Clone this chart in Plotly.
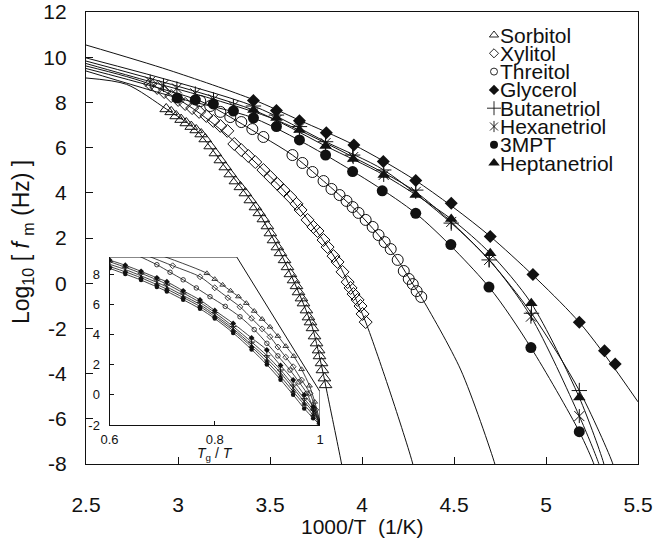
import plotly.graph_objects as go

# ---------------- main panel data (1000/T, log10 f) ----------------
SORB_X = [2.936, 2.963, 2.990, 3.017, 3.045, 3.072, 3.099, 3.126, 3.148, 3.175, 3.203, 3.230, 3.257, 3.284,
          3.312, 3.339, 3.366, 3.393, 3.421, 3.442, 3.464, 3.486, 3.502, 3.519, 3.540, 3.557, 3.579, 3.595,
          3.611, 3.628, 3.644, 3.655, 3.671, 3.682, 3.698, 3.709, 3.720, 3.731, 3.742, 3.753, 3.764, 3.769,
          3.780, 3.785, 3.796, 3.802]
SORB_Y = [7.71, 7.58, 7.40, 7.24, 7.09, 6.93, 6.78, 6.60, 6.38, 6.07, 5.76, 5.45, 5.14, 4.83, 4.52, 4.26,
          3.99, 3.68, 3.37, 3.11, 2.84, 2.53, 2.22, 1.91, 1.60, 1.34, 1.03, 0.72, 0.41, 0.14, -0.12, -0.39,
          -0.66, -0.88, -1.19, -1.50, -1.72, -1.98, -2.34, -2.65, -2.96, -3.22, -3.53, -3.84, -4.20, -4.50]
SORB_FIT_X = [2.5, 2.72, 2.936, 3.099, 3.257, 3.421, 3.557, 3.655, 3.731, 3.785, 3.811, 3.889, 3.895]
SORB_FIT_Y = [9.08, 8.80, 7.71, 6.78, 5.14, 3.37, 1.34, -0.39, -1.98, -3.84, -4.87, -8.0, -8.3]

XYL_X = [2.849, 2.887, 2.925, 2.963, 3.001, 3.039, 3.077, 3.115, 3.154, 3.192, 3.230, 3.268, 3.306, 3.344,
         3.382, 3.420, 3.464, 3.502, 3.540, 3.573, 3.611, 3.644, 3.666, 3.704, 3.736, 3.758, 3.791, 3.813,
         3.845, 3.867, 3.894, 3.922, 3.938, 3.954, 3.976, 3.992, 4.003, 4.020]
XYL_Y = [8.81, 8.64, 8.46, 8.28, 8.11, 7.93, 7.75, 7.58, 7.40, 7.18, 6.96, 6.74, 6.16, 5.89, 5.63, 5.36,
         5.01, 4.70, 4.39, 4.12, 3.81, 3.51, 3.24, 2.80, 2.49, 2.31, 1.91, 1.60, 1.20, 0.94, 0.50, 0.05,
         -0.21, -0.48, -0.74, -1.01, -1.36, -1.72]
XYL_FIT_X = [2.5, 2.849, 3.077, 3.268, 3.382, 3.573, 3.736, 3.867, 3.954, 4.020, 4.156, 4.276, 4.282]
XYL_FIT_Y = [9.61, 8.80, 7.75, 6.55, 5.65, 4.12, 2.49, 0.94, -0.48, -1.72, -4.90, -8.0, -8.3]

THR_X = [3.121, 3.175, 3.230, 3.284, 3.344, 3.404, 3.464, 3.622, 3.676, 3.731, 3.791, 3.834, 3.878, 3.916,
         3.949, 3.981, 4.020, 4.058, 4.090, 4.123, 4.156, 4.194, 4.227, 4.254, 4.276, 4.297, 4.322]
THR_Y = [8.06, 7.84, 7.58, 7.35, 7.13, 6.82, 6.47, 5.67, 5.32, 4.92, 4.52, 4.17, 3.90, 3.64, 3.37, 3.11,
         2.80, 2.49, 2.13, 1.82, 1.51, 1.03, 0.54, 0.19, -0.04, -0.35, -0.61]
THR_FIT_X = [2.5, 3.121, 3.284, 3.464, 3.622, 3.791, 3.949, 4.090, 4.194, 4.276, 4.322, 4.537, 4.722, 4.73]
THR_FIT_Y = [9.5, 8.06, 7.35, 6.47, 5.67, 4.52, 3.37, 2.13, 1.03, -0.04, -0.61, -3.84, -8.0, -8.3]

GLY_X = [3.410, 3.535, 3.660, 3.806, 3.956, 4.116, 4.292, 4.485, 4.697, 4.929, 5.181, 5.318, 5.376]
GLY_Y = [8.08, 7.64, 7.19, 6.66, 6.12, 5.38, 4.54, 3.54, 2.07, 0.39, -1.73, -2.99, -3.58]
GLY_FIT_X = [2.5, 2.95, 3.41, 3.66, 3.956, 4.292, 4.697, 5.181, 5.5]
GLY_FIT_Y = [10.54, 9.43, 8.12, 7.21, 6.12, 4.54, 2.07, -1.73, -5.25]

BUT_X = [3.410, 3.535, 3.660, 3.802, 3.949, 4.118, 4.292, 4.485, 4.691, 4.921, 5.181]
BUT_Y = [7.84, 7.44, 6.93, 6.26, 5.67, 5.01, 4.12, 2.66, 1.03, -1.33, -4.75]
BUT_FIT_X = [2.5, 3.410, 3.802, 4.118, 4.485, 4.691, 4.921, 5.181, 5.365, 5.37]
BUT_FIT_Y = [9.97, 7.84, 6.26, 5.01, 2.66, 1.03, -1.33, -4.75, -8.04, -8.3]

HEX_X = [2.849, 2.921, 2.994, 3.094, 3.193, 3.301, 3.410, 3.535, 3.660, 3.802, 3.952, 4.118, 4.292, 4.485,
         4.691, 4.918, 5.181]
HEX_Y = [8.92, 8.77, 8.62, 8.40, 8.14, 7.84, 7.53, 7.22, 6.87, 6.20, 5.58, 4.79, 4.04, 2.71, 1.03, -1.48,
         -5.88]
HEX_FIT_X = [2.5, 2.849, 3.193, 3.535, 3.952, 4.292, 4.691, 4.918, 5.181, 5.289, 5.295]
HEX_FIT_Y = [9.72, 8.92, 8.14, 7.22, 5.58, 4.04, 1.03, -1.48, -5.88, -8.04, -8.3]

MPT_X = [2.996, 3.094, 3.192, 3.301, 3.410, 3.535, 3.660, 3.802, 3.949, 4.110, 4.292, 4.483, 4.690, 4.918,
         5.181]
MPT_Y = [8.20, 8.11, 7.93, 7.62, 7.31, 6.93, 6.34, 5.67, 4.94, 4.09, 3.09, 1.71, -0.17, -2.85, -6.57]
MPT_FIT_X = [2.5, 2.996, 3.410, 3.802, 4.292, 4.690, 4.918, 5.181, 5.262, 5.27]
MPT_FIT_Y = [9.39, 8.20, 7.31, 5.67, 3.09, -0.17, -2.85, -6.57, -8.04, -8.3]

HEP_X = [3.410, 3.535, 3.660, 3.802, 3.952, 4.118, 4.292, 4.485, 4.697, 4.920, 5.181]
HEP_Y = [7.66, 7.31, 6.78, 6.07, 5.50, 4.79, 3.90, 2.84, 1.32, -0.89, -5.06]
HEP_FIT_X = [2.5, 3.410, 3.802, 4.118, 4.485, 4.697, 4.920, 5.181, 5.316, 5.32]
HEP_FIT_Y = [9.83, 7.66, 6.07, 4.79, 2.84, 1.32, -0.89, -5.06, -8.04, -8.3]

# ---------------- inset data (Tg/T, log10 f) ----------------
I_SORB_X = [0.685, 0.785, 0.80, 0.815, 0.83, 0.845, 0.86, 0.875, 0.89, 0.905, 0.92, 0.935, 0.95, 0.965, 0.98, 0.99, 1.0]
I_SORB_Y = [9.4, 8.05, 7.66, 7.28, 6.89, 6.51, 6.07, 5.55, 5.02, 4.50, 3.89, 3.22, 2.56, 1.69, 0.60, -0.47, -1.78]
I_XYL_X = [0.655, 0.72, 0.772, 0.80, 0.825, 0.848, 0.87, 0.89, 0.905, 0.92, 0.935, 0.949, 0.965, 0.981, 0.992, 1.0]
I_XYL_Y = [9.45, 8.55, 7.82, 7.09, 6.43, 5.83, 5.07, 4.37, 3.85, 3.17, 2.49, 1.86, 0.98, 0.10, -1.0, -1.78]
I_THR_X = [0.64, 0.69, 0.715, 0.74, 0.765, 0.791, 0.82, 0.848, 0.875, 0.899, 0.92, 0.943, 0.96, 0.975, 0.988, 1.0]
I_THR_Y = [9.45, 8.62, 8.12, 7.62, 7.08, 6.50, 5.86, 5.17, 4.32, 3.41, 2.58, 1.64, 0.85, 0.10, -0.95, -1.95]
I_B_X = [0.60, 0.63, 0.66, 0.69, 0.709, 0.74, 0.772, 0.80, 0.835, 0.87, 0.899, 0.925, 0.949, 0.97, 0.987, 1.0]
I_GLY_Y = [8.93, 8.58, 8.18, 7.75, 7.49, 6.89, 6.28, 5.59, 4.73, 3.77, 2.97, 1.94, 0.98, 0.0, -0.79, -1.89]
I_BUT_Y = [8.82, 8.45, 8.05, 7.62, 7.33, 6.75, 6.12, 5.45, 4.52, 3.5, 2.6, 1.65, 0.65, -0.25, -1.0, -1.92]
I_HEX_Y = [8.65, 8.3, 7.88, 7.45, 7.15, 6.58, 5.98, 5.3, 4.38, 3.32, 2.4, 1.45, 0.45, -0.45, -1.15, -1.95]
I_HEP_Y = [8.5, 8.15, 7.75, 7.3, 7.0, 6.45, 5.85, 5.18, 4.25, 3.18, 2.2, 1.22, 0.22, -0.65, -1.35, -1.97]
I_MPT_Y = [8.38, 8.0, 7.6, 7.15, 6.85, 6.3, 5.7, 5.05, 4.1, 3.0, 2.0, 1.0, 0.0, -0.9, -1.55, -2.0]

# ---------------- ticks ----------------
X_TICKS = [2.5, 3, 3.5, 4, 4.5, 5, 5.5]
X_TICKTEXT = ["2.5", "3", "3.5", "4", "4.5", "5", "5.5"]
Y_TICKS = [-8, -6, -4, -2, 0, 2, 4, 6, 8, 10, 12]
Y_TICKTEXT = ["-8", "-6", "-4", "-2", "0", "2", "4", "6", "8", "10", "12"]
IX_TICKS = [0.6, 0.8, 1.0]
IX_TICKTEXT = ["0.6", "0.8", "1"]
IY_TICKS = [-2, 0, 2, 4, 6, 8]
IY_TICKTEXT = ["-2", "0", "2", "4", "6", "8"]

NAMES = ["Sorbitol", "Xylitol", "Threitol", "Glycerol", "Butanetriol", "Hexanetriol", "3MPT", "Heptanetriol"]

# ---------------- layout geometry ----------------
W, H = 653, 543
ML, MR, MT, MB = 86, 15, 12, 79
PW, PH = W - ML - MR, H - MT - MB
FONT = "Liberation Sans, Arial, sans-serif"
INK = "#111111"


def fx(px):
    return (px - ML) / PW


def fy(py):
    return (H - MB - py) / PH


STYLES = {
    "Sorbitol": dict(symbols=["triangle-up-open"], size=11, isize=5, lsize=8),
    "Xylitol": dict(symbols=["diamond-open"], size=10, isize=4.5, lsize=7),
    "Threitol": dict(symbols=["circle-open"], size=11, isize=4.5, lsize=7),
    "Glycerol": dict(symbols=["diamond"], size=10, isize=4.5, lsize=8),
    "Butanetriol": dict(symbols=["cross-thin-open"], size=11, isize=5, lsize=10),
    "Hexanetriol": dict(symbols=["x-thin-open", "line-ns-open"], size=10, isize=5, lsize=8),
    "3MPT": dict(symbols=["circle"], size=11, isize=4.5, lsize=8),
    "Heptanetriol": dict(symbols=["triangle-up"], size=11, isize=5, lsize=10),
}

MAIN = {
    "Sorbitol": (SORB_X, SORB_Y, SORB_FIT_X, SORB_FIT_Y),
    "Xylitol": (XYL_X, XYL_Y, XYL_FIT_X, XYL_FIT_Y),
    "Threitol": (THR_X, THR_Y, THR_FIT_X, THR_FIT_Y),
    "Glycerol": (GLY_X, GLY_Y, GLY_FIT_X, GLY_FIT_Y),
    "Butanetriol": (BUT_X, BUT_Y, BUT_FIT_X, BUT_FIT_Y),
    "Hexanetriol": (HEX_X, HEX_Y, HEX_FIT_X, HEX_FIT_Y),
    "3MPT": (MPT_X, MPT_Y, MPT_FIT_X, MPT_FIT_Y),
    "Heptanetriol": (HEP_X, HEP_Y, HEP_FIT_X, HEP_FIT_Y),
}
INSET = {
    "Sorbitol": (I_SORB_X, I_SORB_Y),
    "Xylitol": (I_XYL_X, I_XYL_Y),
    "Threitol": (I_THR_X, I_THR_Y),
    "Glycerol": (I_B_X, I_GLY_Y),
    "Butanetriol": (I_B_X, I_BUT_Y),
    "Hexanetriol": (I_B_X, I_HEX_Y),
    "3MPT": (I_B_X, I_MPT_Y),
    "Heptanetriol": (I_B_X, I_HEP_Y),
}


def marker(sym, size, thin=1.0):
    filled = not sym.endswith("-open")
    return dict(symbol=sym, size=size, color=INK,
                line=dict(color=INK, width=0 if filled else thin))


fig = go.Figure()

# main panel fits and markers
for name in NAMES:
    mx, my, lx, ly = MAIN[name]
    fig.add_trace(go.Scatter(x=lx, y=ly, mode="lines", line=dict(color=INK, width=1, shape="spline", smoothing=0.8),
                             showlegend=False, hoverinfo="skip", xaxis="x", yaxis="y"))
for name in NAMES:
    mx, my, lx, ly = MAIN[name]
    st = STYLES[name]
    for sym in st["symbols"]:
        fig.add_trace(go.Scatter(x=mx, y=my, mode="markers", marker=marker(sym, st["size"]),
                                 showlegend=False, name=name, xaxis="x", yaxis="y"))

# inset
for name in NAMES:
    ix, iy = INSET[name]
    st = STYLES[name]
    fig.add_trace(go.Scatter(x=ix, y=iy, mode="lines", line=dict(color=INK, width=0.8, shape="spline", smoothing=0.8),
                             showlegend=False, hoverinfo="skip", xaxis="x2", yaxis="y2"))
    for sym in st["symbols"]:
        fig.add_trace(go.Scatter(x=ix, y=iy, mode="markers", marker=marker(sym, st["isize"], 0.8),
                                 showlegend=False, name=name, xaxis="x2", yaxis="y2"))

# custom legend (symbols on an invisible full-frame axis, labels as annotations)
LEG_SYM_PX = 494
LEG_TXT_PX = 499
LEG_ROW0_PY = 35
LEG_DY = 18.3
annotations = []
for i, name in enumerate(NAMES):
    st = STYLES[name]
    yy = fy(LEG_ROW0_PY + i * LEG_DY)
    for sym in st["symbols"]:
        fig.add_trace(go.Scatter(x=[fx(LEG_SYM_PX)], y=[yy], mode="markers",
                                 marker=marker(sym, st["lsize"], 0.9), showlegend=False,
                                 hoverinfo="skip", xaxis="x3", yaxis="y3", cliponaxis=False))
    annotations.append(dict(x=fx(LEG_TXT_PX), y=yy, xref="paper", yref="paper", text=name,
                            showarrow=False, xanchor="left", yanchor="middle", borderpad=0,
                            font=dict(family=FONT, size=21, color=INK)))

annotations.append(dict(x=0.5, y=fy(526), xref="paper", yref="paper", text="1000/T\u00a0\u00a0(1/K)",
                        showarrow=False, xanchor="center", yanchor="middle",
                        font=dict(family=FONT, size=21, color=INK)))
annotations.append(dict(x=fx(22), y=fy(242), xref="paper", yref="paper",
                        text="Log<sub>10</sub>\u00a0[\u00a0<i>f</i>\u00a0<sub>m</sub>\u00a0(Hz)\u00a0]",
                        showarrow=False, xanchor="center", yanchor="middle", textangle=-90,
                        font=dict(family=FONT, size=23, color=INK)))
annotations.append(dict(x=fx(215), y=fy(454), xref="paper", yref="paper",
                        text="<i>T</i><sub>g</sub>\u00a0/\u00a0<i>T</i>",
                        showarrow=False, xanchor="center", yanchor="middle", borderpad=0,
                        font=dict(family=FONT, size=14, color=INK)))

# inset frame (top edge, diagonal cut, right stub)
INSET_TOP = 9.13
inset_path = f"M 0.6,{INSET_TOP} L 0.8418,{INSET_TOP} L 1.0,0.205 L 1.0,-2"

axis_common = dict(showgrid=False, zeroline=False, showline=True, linecolor=INK, ticks="inside",
                   tickcolor=INK, tickwidth=1, automargin=False)

fig.update_layout(
    width=W, height=H, autosize=False,
    margin=dict(l=ML, r=MR, t=MT, b=MB, autoexpand=False),
    paper_bgcolor="white", plot_bgcolor="rgba(0,0,0,0)",
    showlegend=False,
    font=dict(family=FONT, color=INK),
    xaxis=dict(**axis_common, domain=[0, 1], range=[2.5, 5.5], tickvals=X_TICKS, ticktext=X_TICKTEXT,
               mirror=True, linewidth=1.3, ticklen=7, ticklabelstandoff=22,
               tickfont=dict(family=FONT, size=21, color=INK), anchor="y"),
    yaxis=dict(**axis_common, domain=[0, 1], range=[-8, 12], tickvals=Y_TICKS, ticktext=Y_TICKTEXT,
               mirror=True, linewidth=1.3, ticklen=7, ticklabelstandoff=14,
               tickfont=dict(family=FONT, size=21, color=INK), anchor="x"),
    xaxis2=dict(**axis_common, domain=[fx(109.5), fx(320)], range=[0.6, 1.0], tickvals=IX_TICKS,
                ticktext=IX_TICKTEXT, linewidth=1, ticklen=4, ticklabelstandoff=2,
                tickfont=dict(family=FONT, size=13, color=INK), anchor="y2"),
    yaxis2=dict(**axis_common, domain=[fy(425), fy(257)], range=[-2, INSET_TOP], tickvals=IY_TICKS,
                ticktext=IY_TICKTEXT, linewidth=1, ticklen=4, ticklabelstandoff=6,
                tickfont=dict(family=FONT, size=13, color=INK), anchor="x2"),
    xaxis3=dict(domain=[0, 1], range=[0, 1], visible=False, anchor="y3", fixedrange=True, automargin=False),
    yaxis3=dict(domain=[0, 1], range=[0, 1], visible=False, anchor="x3", fixedrange=True, automargin=False),
    annotations=annotations,
    shapes=[dict(type="path", path=inset_path, xref="x2", yref="y2", line=dict(color=INK, width=1),
                 layer="above")],
)

fig.write_html("out.html", config={"displayModeBar": False},
               post_script="document.body.style.margin='0';document.body.style.padding='0';")
